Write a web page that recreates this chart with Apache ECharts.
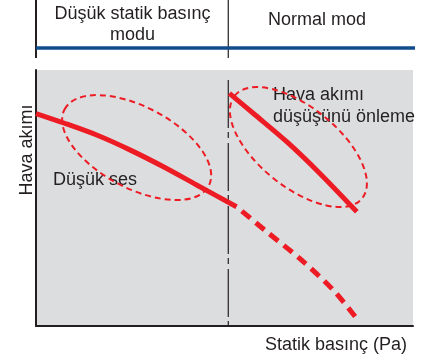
<!DOCTYPE html>
<html>
<head>
<meta charset="utf-8">
<script src="https://cdn.jsdelivr.net/npm/echarts@6/dist/echarts.min.js"></script>
<style>
  html, body { margin: 0; padding: 0; background: #ffffff; }
  #chart { width: 435px; height: 363px; }
</style>
</head>
<body>
<div id="chart"></div>
<script>
// Fan curve: airflow versus static pressure, with two operating modes.
// Both axes are relative (0–100), without tick values.
const modeLabels = ['Düşük statik basınç\nmodu', 'Normal mod'];
const axisTitles = { x: 'Statik basınç (Pa)', y: 'Hava akımı' };
const noteLabels = ['Düşük ses', 'Hava akımı\ndüşüşünü önleme'];

// Boundary between the two modes on the static pressure axis
const modeBoundary = 51;

// Low static pressure mode curve (solid part)
const lowModeCurve = [
  [0, 83.0], [7.2, 79.4], [16.1, 74.6], [24.9, 68.8], [33.8, 62.2],
  [42.6, 55.1], [53.2, 46.6]
];
// Its continuation past the boundary (dashed)
const lowModeTail = [
  [53.2, 46.6], [61.3, 36.7], [70.0, 26.3], [78.8, 14.1], [85.4, 2.3]
];
// Normal mode curve
const normalModeCurve = [
  [51.3, 90.9], [57.6, 83.1], [66.5, 72.0], [75.3, 59.6], [85.1, 44.6]
];
// Highlight regions: [centerX, centerY] in axis units
const highlightCenters = [[26.7, 69.7], [69.6, 69.9]];

const RED = '#ed1c24';
const INK = '#231f20';
const FONT = '18px "Liberation Sans", Arial, sans-serif';

const chart = echarts.init(document.getElementById('chart'), null, { renderer: 'canvas' });

// Ellipse sizes (px) and tilt (degrees, clockwise) for each highlight
const ellipseShapes = [
  { rx: 81.6, ry: 40.6, tilt: 28 },
  { rx: 81.8, ry: 40.0, tilt: 38.8 }
];

const curveLine = (data, extra) => Object.assign({
  type: 'line', data: data, smooth: 0.3,
  showSymbol: false, silent: true, z: 3,
  lineStyle: { color: RED, width: 5 }
}, extra || {});

chart.setOption({
  animation: false,
  grid: {
    left: 36, right: 22, top: 70, bottom: 37,
    show: true, backgroundColor: '#dcdddf', borderWidth: 0
  },
  xAxis: {
    type: 'value', min: 0, max: 100,
    axisLine: { show: true, lineStyle: { color: INK, width: 2 } },
    axisTick: { show: false }, axisLabel: { show: false }, splitLine: { show: false }
  },
  yAxis: {
    type: 'value', min: 0, max: 100,
    axisLine: { show: true, lineStyle: { color: INK, width: 2 } },
    axisTick: { show: false }, axisLabel: { show: false }, splitLine: { show: false }
  },
  series: [
    {
      // mode divider
      type: 'line',
      data: [[modeBoundary, 96.1], [modeBoundary, 0]],
      showSymbol: false, silent: true, z: 1,
      lineStyle: { color: INK, width: 1.2, type: [48, 4, 6, 5] }
    },
    {
      type: 'custom',
      data: highlightCenters,
      z: 2, silent: true,
      renderItem: function (params, api) {
        const p = api.coord([api.value(0), api.value(1)]);
        const s = ellipseShapes[params.dataIndex];
        return {
          type: 'ellipse',
          x: p[0], y: p[1],
          rotation: -s.tilt * Math.PI / 180,
          shape: { cx: 0, cy: 0, rx: s.rx, ry: s.ry },
          style: { fill: 'none', stroke: RED, lineWidth: 2, lineDash: [6, 4] }
        };
      }
    },
    curveLine(lowModeCurve),
    curveLine(lowModeTail, { lineStyle: { color: RED, width: 5, type: [11, 7], dashOffset: 11 } }),
    curveLine(normalModeCurve)
  ]
});

// Header band, axis titles and notes, placed around the plot
const bx = chart.convertToPixel({ gridIndex: 0 }, [modeBoundary, 0])[0];
const headLines = modeLabels[0].split('\n');
const noteLines = noteLabels[1].split('\n');
const txt = (text, x, y, align) => ({
  type: 'text', silent: true,
  style: { text: text, x: x, y: y, font: FONT, fill: INK, textAlign: align, textVerticalAlign: 'middle' }
});

chart.setOption({
  graphic: [
    { type: 'line', shape: { x1: 36, y1: 0, x2: 36, y2: 58 }, style: { stroke: INK, lineWidth: 2 } },
    { type: 'line', shape: { x1: bx, y1: 0, x2: bx, y2: 58 }, style: { stroke: INK, lineWidth: 1.2 } },
    { type: 'line', shape: { x1: 36, y1: 48, x2: 415, y2: 48 }, style: { stroke: '#114c8c', lineWidth: 3.5 } },
    txt(headLines[0], 132.5, 13.7, 'center'),
    txt(headLines[1], 132.5, 35.4, 'center'),
    txt(modeLabels[1], 317, 19.7, 'center'),
    txt(noteLabels[0], 53, 180.4, 'left'),
    txt(noteLines[0], 273, 95.4, 'left'),
    txt(noteLines[1], 273, 117, 'left'),
    txt(axisTitles.x, 407, 345.4, 'right'),
    {
      type: 'text', silent: true, x: 26.7, y: 150, rotation: Math.PI / 2,
      style: { text: axisTitles.y, x: 0, y: 0, font: FONT, fill: INK, textAlign: 'center', textVerticalAlign: 'middle' }
    }
  ]
});
</script>
</body>
</html>
